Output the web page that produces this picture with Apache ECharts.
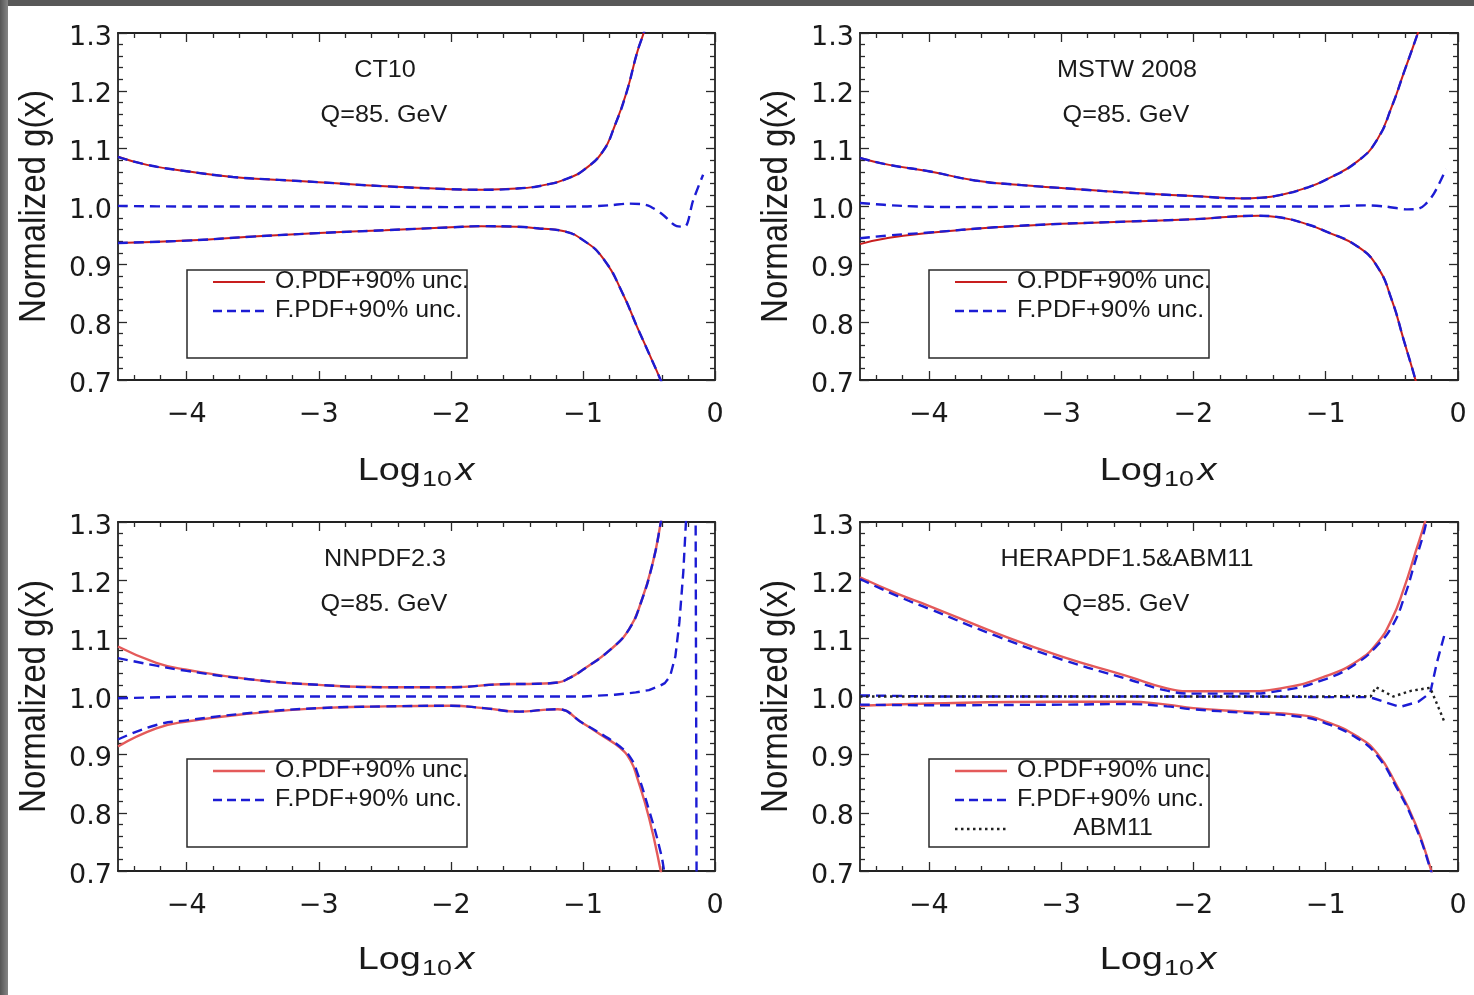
<!DOCTYPE html>
<html><head><meta charset="utf-8">
<script src="https://cdn.jsdelivr.net/npm/echarts@6/dist/echarts.min.js"></script>
<style>html,body{margin:0;padding:0;background:#fff;}#c{width:1474px;height:995px;}</style>
</head><body><div id="c"></div>
<script>
// ---------- tick labels / text ----------
const xTickLabels = [-4, -3, -2, -1, 0];
const yTickLabels = [0.7, 0.8, 0.9, 1.0, 1.1, 1.2, 1.3];
const panelNames = ['CT10', 'MSTW 2008', 'NNPDF2.3', 'HERAPDF1.5&ABM11'];
const scaleLabel = 'Q=85. GeV';
const legendNames = ['O.PDF+90% unc.', 'F.PDF+90% unc.', 'ABM11'];
const yTitle = 'Normalized g(x)';

// ---------- CT10 ----------
const ct10_O_up = [[-4.52,1.086],[-4.3,1.072],[-4.0,1.061],[-3.65,1.051],[-3.3,1.046],[-3.0,1.042],[-2.5,1.035],[-2.0,1.030],[-1.75,1.029],[-1.5,1.031],[-1.25,1.039],[-1.1,1.050],[-1.0,1.062],[-0.85,1.095],[-0.76,1.139],[-0.67,1.197],[-0.59,1.266],[-0.54,1.30],[-0.5,1.33]];
const ct10_F_up = ct10_O_up;
const ct10_O_low = [[-4.52,0.937],[-4.0,0.941],[-3.5,0.948],[-3.0,0.954],[-2.5,0.959],[-2.0,0.964],[-1.77,0.966],[-1.5,0.965],[-1.33,0.962],[-1.16,0.958],[-1.0,0.942],[-0.84,0.908],[-0.7,0.850],[-0.59,0.792],[-0.5,0.746],[-0.41,0.699],[-0.38,0.68]];
const ct10_F_low = ct10_O_low;
const ct10_F_cen = [[-4.52,1.001],[-4.0,1.0],[-3.0,1.0],[-2.0,0.999],[-1.0,1.0],[-0.8,1.002],[-0.65,1.005],[-0.55,1.004],[-0.49,1.0],[-0.39,0.985],[-0.29,0.966],[-0.23,0.965],[-0.165,1.011],[-0.09,1.055]];

// ---------- MSTW 2008 ----------
const mstw_O_up = [[-4.52,1.084],[-4.3,1.072],[-4.0,1.061],[-3.65,1.045],[-3.3,1.037],[-3.0,1.032],[-2.5,1.024],[-2.0,1.018],[-1.62,1.014],[-1.5,1.015],[-1.34,1.020],[-1.15,1.032],[-1.0,1.046],[-0.76,1.078],[-0.61,1.116],[-0.5,1.173],[-0.41,1.231],[-0.32,1.289],[-0.29,1.31],[-0.27,1.33]];
const mstw_F_up = mstw_O_up;
const mstw_O_low = [[-4.52,0.935],[-4.3,0.946],[-4.0,0.954],[-3.5,0.964],[-3.0,0.970],[-2.5,0.974],[-2.0,0.978],[-1.51,0.984],[-1.34,0.981],[-1.15,0.970],[-1.0,0.957],[-0.76,0.931],[-0.61,0.896],[-0.5,0.838],[-0.41,0.769],[-0.32,0.699],[-0.29,0.67]];
const mstw_F_low = [[-4.52,0.945],[-4.3,0.950],[-4.0,0.955],[-3.5,0.964],[-3.0,0.970],[-2.5,0.974],[-2.0,0.978],[-1.51,0.984],[-1.34,0.981],[-1.15,0.970],[-1.0,0.957],[-0.76,0.931],[-0.61,0.896],[-0.5,0.838],[-0.41,0.769],[-0.32,0.699],[-0.29,0.67]];
const mstw_F_cen = [[-4.52,1.006],[-4.2,1.001],[-3.8,0.999],[-3.0,1.0],[-2.0,1.0],[-1.0,1.0],[-0.7,1.002],[-0.55,1.0],[-0.38,0.995],[-0.3,0.996],[-0.25,1.003],[-0.18,1.023],[-0.09,1.065]];

// ---------- NNPDF2.3 ----------
const nn_O_up = [[-4.52,1.086],[-4.23,1.058],[-4.0,1.046],[-3.5,1.029],[-3.0,1.020],[-2.5,1.016],[-2.0,1.016],[-1.62,1.021],[-1.34,1.022],[-1.19,1.024],[-1.1,1.032],[-1.0,1.046],[-0.79,1.081],[-0.65,1.116],[-0.56,1.162],[-0.47,1.231],[-0.41,1.30],[-0.39,1.33]];
const nn_F_up = [[-4.52,1.066],[-4.23,1.053],[-4.0,1.044],[-3.5,1.029],[-3.0,1.020],[-2.5,1.016],[-2.0,1.016],[-1.62,1.021],[-1.34,1.022],[-1.19,1.024],[-1.1,1.032],[-1.0,1.046],[-0.79,1.081],[-0.65,1.116],[-0.56,1.162],[-0.47,1.231],[-0.41,1.30],[-0.39,1.33]];
const nn_O_low = [[-4.52,0.914],[-4.23,0.945],[-4.0,0.957],[-3.5,0.971],[-3.0,0.980],[-2.5,0.983],[-2.0,0.984],[-1.75,0.980],[-1.48,0.974],[-1.3,0.977],[-1.19,0.978],[-1.0,0.954],[-0.85,0.932],[-0.72,0.912],[-0.64,0.89],[-0.59,0.861],[-0.5,0.792],[-0.41,0.699],[-0.39,0.67]];
const nn_F_low = [[-4.52,0.926],[-4.23,0.951],[-4.0,0.959],[-3.5,0.972],[-3.0,0.980],[-2.5,0.983],[-2.0,0.984],[-1.75,0.980],[-1.48,0.974],[-1.3,0.977],[-1.19,0.978],[-1.0,0.954],[-0.85,0.934],[-0.72,0.914],[-0.64,0.895],[-0.59,0.870],[-0.5,0.805],[-0.42,0.74],[-0.385,0.70],[-0.37,0.67]];
const nn_F_cen = [[-4.52,0.997],[-4.0,1.0],[-3.0,1.0],[-2.0,1.0],[-1.0,1.0],[-0.76,1.003],[-0.6,1.007],[-0.5,1.011],[-0.42,1.018],[-0.38,1.023],[-0.34,1.035],[-0.30,1.069],[-0.27,1.127],[-0.24,1.214],[-0.22,1.30],[-0.2,1.6],[-0.15,1.6],[-0.136,0.4]];

// ---------- HERAPDF1.5 & ABM11 ----------
const hera_O_up = [[-4.52,1.205],[-4.23,1.176],[-4.0,1.156],[-3.5,1.110],[-3.0,1.069],[-2.5,1.035],[-2.2,1.014],[-2.0,1.009],[-1.62,1.009],[-1.34,1.014],[-1.0,1.035],[-0.76,1.061],[-0.61,1.092],[-0.5,1.133],[-0.41,1.185],[-0.32,1.249],[-0.25,1.30],[-0.22,1.33]];
const hera_F_up = [[-4.52,1.202],[-4.23,1.172],[-4.0,1.151],[-3.5,1.105],[-3.0,1.064],[-2.5,1.030],[-2.2,1.010],[-2.0,1.005],[-1.62,1.005],[-1.34,1.010],[-1.0,1.030],[-0.76,1.058],[-0.61,1.088],[-0.5,1.120],[-0.41,1.168],[-0.32,1.235],[-0.26,1.28],[-0.23,1.31]];
const hera_O_low = [[-4.52,0.984],[-4.0,0.988],[-3.0,0.991],[-2.5,0.991],[-2.2,0.986],[-2.0,0.980],[-1.62,0.974],[-1.19,0.968],[-1.0,0.957],[-0.76,0.931],[-0.61,0.902],[-0.47,0.850],[-0.32,0.780],[-0.2,0.699],[-0.17,0.67]];
const hera_F_low = [[-4.52,0.986],[-4.0,0.985],[-3.0,0.986],[-2.5,0.987],[-2.2,0.983],[-2.0,0.978],[-1.62,0.972],[-1.19,0.965],[-1.0,0.954],[-0.76,0.928],[-0.61,0.898],[-0.47,0.846],[-0.32,0.776],[-0.2,0.697],[-0.17,0.67]];
const hera_F_cen = [[-4.52,1.002],[-4.0,1.0],[-3.0,1.0],[-2.0,1.0],[-1.5,1.0],[-1.0,0.999],[-0.7,0.999],[-0.64,0.997],[-0.44,0.982],[-0.3,0.991],[-0.21,1.006],[-0.16,1.058],[-0.105,1.104]];
const abm11 = [[-4.52,1.0],[-4.0,1.0],[-3.0,1.0],[-2.0,1.0],[-1.0,1.0],[-0.8,1.001],[-0.66,1.0],[-0.62,1.016],[-0.49,1.0],[-0.35,1.01],[-0.21,1.015],[-0.1,0.955]];

// ---------- layout ----------
const X_MIN = -4.52, X_MAX = 0, Y_MIN = 0.7, Y_MAX = 1.3;
const grids = [
  {left:118, top:33, width:597, height:347},
  {left:860, top:33, width:598, height:347},
  {left:118, top:522, width:597, height:349},
  {left:860, top:522, width:598, height:349}
];
const xMinor = []; for (let i = -22; i <= 0; i++) if (i % 5 !== 0) xMinor.push(i / 5);
const yMinor = []; for (let i = 35; i <= 65; i++) if (i % 5 !== 0) yMinor.push(i / 50);

const FRAME = {color:'#222', width:1.8};
const TICK = {color:'#2a2a2a', width:1.3};
const TFONT = 'DejaVu Sans';
const LFONT = 'Liberation Sans';
const BLUE = '#1c1cd4';
const RED1 = '#c81e1e', RED2 = '#e45a5a';

const xAxis = [], yAxis = [];
grids.forEach((g, gi) => {
  const base = {gridIndex:gi, type:'value', min:X_MIN, max:X_MAX, splitLine:{show:false}};
  xAxis.push(Object.assign({}, base, {position:'bottom',
    axisLine:{show:true, onZero:false, lineStyle:FRAME},
    axisTick:{show:true, inside:true, length:9, customValues:xTickLabels, lineStyle:TICK},
    axisLabel:{show:true, customValues:xTickLabels, margin:21, fontFamily:TFONT, fontSize:27, color:'#1a1a1a',
      formatter: v => v < 0 ? '\u2212' + Math.abs(v) : String(v)}}));
  xAxis.push(Object.assign({}, base, {position:'bottom', axisLine:{show:false, onZero:false},
    axisTick:{show:true, inside:true, length:5, customValues:xMinor, lineStyle:TICK}, axisLabel:{show:false}}));
  xAxis.push(Object.assign({}, base, {position:'top', axisLine:{show:true, onZero:false, lineStyle:FRAME},
    axisTick:{show:true, inside:true, length:9, customValues:xTickLabels, lineStyle:TICK}, axisLabel:{show:false}}));
  xAxis.push(Object.assign({}, base, {position:'top', axisLine:{show:false, onZero:false},
    axisTick:{show:true, inside:true, length:5, customValues:xMinor, lineStyle:TICK}, axisLabel:{show:false}}));
  const ybase = {gridIndex:gi, type:'value', min:Y_MIN, max:Y_MAX, splitLine:{show:false}};
  yAxis.push(Object.assign({}, ybase, {position:'left',
    axisLine:{show:true, onZero:false, lineStyle:FRAME},
    axisTick:{show:true, inside:true, length:9, customValues:yTickLabels, lineStyle:TICK},
    axisLabel:{show:true, customValues:yTickLabels, margin:6,
      formatter: v => '{t|' + v.toFixed(1) + '}',
      rich:{t:{fontFamily:TFONT, fontSize:27, color:'#1a1a1a', padding:[9,0,0,0]}}}}));
  yAxis.push(Object.assign({}, ybase, {position:'left', axisLine:{show:false, onZero:false},
    axisTick:{show:true, inside:true, length:5, customValues:yMinor, lineStyle:TICK}, axisLabel:{show:false}}));
  yAxis.push(Object.assign({}, ybase, {position:'right', axisLine:{show:true, onZero:false, lineStyle:FRAME},
    axisTick:{show:true, inside:true, length:9, customValues:yTickLabels, lineStyle:TICK}, axisLabel:{show:false}}));
  yAxis.push(Object.assign({}, ybase, {position:'right', axisLine:{show:false, onZero:false},
    axisTick:{show:true, inside:true, length:5, customValues:yMinor, lineStyle:TICK}, axisLabel:{show:false}}));
});

function line(gi, name, data, color, width, type, smooth, z) {
  return {type:'line', name, xAxisIndex:gi*4, yAxisIndex:gi*4, data, symbol:'none', showSymbol:false,
    smooth: smooth, clip:true, z: z,
    lineStyle:{color, width, type}, emphasis:{disabled:true}, animation:false};
}
const DASH = [10, 6], DOT = [2.5, 3.5];
const SM = 0.5;
const panels = [
  {red:RED1, rw:2, O:[ct10_O_up, ct10_O_low], F:[ct10_F_up, ct10_F_low], C:ct10_F_cen, cs:0.3},
  {red:RED1, rw:2, O:[mstw_O_up, mstw_O_low], F:[mstw_F_up, mstw_F_low], C:mstw_F_cen, cs:0.3},
  {red:RED2, rw:2.4, O:[nn_O_up, nn_O_low], F:[nn_F_up, nn_F_low], C:nn_F_cen, cs:false},
  {red:RED2, rw:2.4, O:[hera_O_up, hera_O_low], F:[hera_F_up, hera_F_low], C:hera_F_cen, cs:false, abm:abm11}
];
const series = [];
panels.forEach((p, gi) => {
  series.push(line(gi, legendNames[0], p.O[0], p.red, p.rw, 'solid', SM, 2));
  series.push(line(gi, legendNames[0], p.O[1], p.red, p.rw, 'solid', SM, 2));
  series.push(line(gi, legendNames[1], p.F[0], BLUE, 2.4, DASH, SM, 3));
  series.push(line(gi, legendNames[1], p.F[1], BLUE, 2.4, DASH, SM, 3));
  series.push(line(gi, legendNames[1], p.C, BLUE, 2.4, DASH, p.cs, 3));
  if (p.abm) series.push(line(gi, legendNames[2], p.abm, '#222', 2.4, DOT, false, 4));
});

// ---------- graphic: frame strips, titles, annotations, legends ----------
const TXT = '#1a1a1a';
const graphic = [
  {type:'rect', shape:{x:0, y:0, width:1474, height:6}, style:{fill:'#585858'}, silent:true},
  {type:'rect', shape:{x:0, y:0, width:8, height:995}, style:{fill:new echarts.graphic.LinearGradient(0,0,1,0,[{offset:0,color:'#555'},{offset:1,color:'#858585'}])}, silent:true}
];
grids.forEach((g, gi) => {
  const L = g.left, T = g.top;
  graphic.push({type:'text', x:L+267, y:T+37, scaleX:1.05, style:{text:panelNames[gi], fontFamily:LFONT, fontSize:24, fill:TXT, align:'center', verticalAlign:'middle'}, silent:true});
  graphic.push({type:'text', x:L+266, y:T+82, scaleX:1.05, style:{text:scaleLabel, fontFamily:LFONT, fontSize:24, fill:TXT, align:'center', verticalAlign:'middle'}, silent:true});
  // y title
  graphic.push({type:'text', x:L-83, y:T+g.height/2, rotation:Math.PI/2, scaleY:1.1,
    style:{text:yTitle, fontFamily:LFONT, fontSize:33, fill:TXT, align:'center', verticalAlign:'middle'}, silent:true});
  // x title
  graphic.push({type:'text', x:L+298, y:T+438, scaleX:1.22,
    style:{text:'{a|Log}{b|10}{c|x}', align:'center', verticalAlign:'middle',
      rich:{a:{fontFamily:LFONT, fontSize:31, fill:TXT},
            b:{fontFamily:LFONT, fontSize:22, fill:TXT, padding:[18,3,0,1]},
            c:{fontFamily:LFONT, fontSize:31, fontStyle:'italic', fill:TXT}}}, silent:true});
  // legend box
  const bx = L+69, by = T+237;
  graphic.push({type:'rect', shape:{x:bx, y:by, width:280, height:88}, style:{fill:'none', stroke:'#2a2a2a', lineWidth:1.5}, silent:true, z:10});
  const rows = [T+249, T+278, T+307];
  const red = panels[gi].red, rw = panels[gi].rw;
  graphic.push({type:'line', shape:{x1:L+95, y1:rows[0], x2:L+147, y2:rows[0]}, style:{stroke:red, lineWidth:rw}, silent:true, z:10});
  graphic.push({type:'line', shape:{x1:L+95, y1:rows[1], x2:L+147, y2:rows[1]}, style:{stroke:BLUE, lineWidth:2.4, lineDash:[9,5]}, silent:true, z:10});
  graphic.push({type:'text', x:L+157, y:rows[0], scaleX:1.08, style:{text:legendNames[0], fontFamily:LFONT, fontSize:23, fill:TXT, align:'left', verticalAlign:'middle'}, silent:true, z:10});
  graphic.push({type:'text', x:L+157, y:rows[1], scaleX:1.08, style:{text:legendNames[1], fontFamily:LFONT, fontSize:23, fill:TXT, align:'left', verticalAlign:'middle'}, silent:true, z:10});
  if (panels[gi].abm) {
    graphic.push({type:'line', shape:{x1:L+95, y1:rows[2], x2:L+146, y2:rows[2]}, style:{stroke:'#222', lineWidth:2.4, lineDash:[2.5,3.5]}, silent:true, z:10});
    graphic.push({type:'text', x:L+253, y:rows[2], scaleX:1.08, style:{text:legendNames[2], fontFamily:LFONT, fontSize:23, fill:TXT, align:'center', verticalAlign:'middle'}, silent:true, z:10});
  }
});

const chart = echarts.init(document.getElementById('c'), null, {renderer:'canvas'});
chart.setOption({
  animation:false,
  backgroundColor:'#ffffff',
  grid: grids.map(g => Object.assign({containLabel:false}, g)),
  xAxis, yAxis, series, graphic
});
</script></body></html>
